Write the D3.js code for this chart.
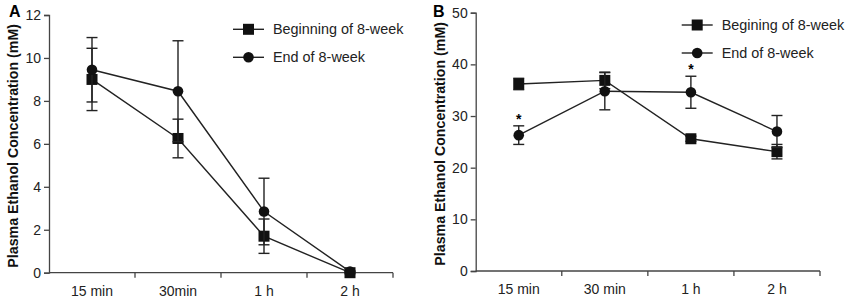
<!DOCTYPE html>
<html>
  <head>
    <meta charset="utf-8">
    <script src="https://cdn.jsdelivr.net/npm/d3@7"></script>
    <style>
      body { margin: 0; background: white; }
      svg { display: block; font-family: "Liberation Sans", Arial, sans-serif; }
    </style>
  </head>
  <body>
    <script>
      // Data
      const timesA = ["15 min", "30min", "1 h", "2 h"];
      const timesB = ["15 min", "30 min", "1 h", "2 h"];

      const beginA = [9.0, 6.25, 1.7, 0.0];
      const beginErrA = [1.45, 0.9, 0.8, 0.05];
      const endA = [9.45, 8.45, 2.85, 0.05];
      const endErrA = [1.5, 2.35, 1.55, 0.05];

      const beginB = [36.2, 36.9, 25.6, 23.1];
      const beginErrB = [1.1, 1.6, 0.5, 1.4];
      const endB = [26.3, 34.8, 34.6, 27.0];
      const endErrB = [1.8, 3.6, 3.1, 3.1];
      const starsB = [true, false, true, false]; // * over end-of-8-week

      const yTicksA = [0, 2, 4, 6, 8, 10, 12];
      const yTicksB = [0, 10, 20, 30, 40, 50];

      const w = 850;
      const h = 302;

      const svg = d3.select("body")
        .append("svg")
        .attr("width", w)
        .attr("height", h);

      function drawPanel(p) {
        const g = svg.append("g");

        const x = d3.scaleBand()
          .domain(p.cats)
          .range([p.left, p.right]);

        const y = d3.scaleLinear()
          .domain([0, p.yMax])
          .range([p.bottom, p.top]);

        // y axis
        const yAxis = d3.axisLeft(y)
          .tickValues(p.yTicks)
          .tickSize(5)
          .tickPadding(3);
        g.append("g")
          .attr("transform", "translate(" + p.left + ",0)")
          .call(yAxis)
          .call(s => s.selectAll("text").attr("font-size", 14).attr("fill", "#222").attr("font-family", null))
          .call(s => s.selectAll("path,line").attr("stroke", "#444").attr("stroke-width", 1.3));

        // x axis: ticks at band edges
        const edges = p.cats.map(c => x(c)).concat([p.right]);
        g.append("line")
          .attr("x1", p.left).attr("x2", p.right)
          .attr("y1", p.bottom).attr("y2", p.bottom)
          .attr("stroke", "#444").attr("stroke-width", 1.3);
        g.selectAll(".xt")
          .data(edges.slice(1))
          .enter()
          .append("line")
          .attr("x1", d => d).attr("x2", d => d)
          .attr("y1", p.bottom).attr("y2", p.bottom + 5)
          .attr("stroke", "#444").attr("stroke-width", 1.3);
        g.selectAll(".xl")
          .data(p.cats)
          .enter()
          .append("text")
          .attr("x", d => x(d) + x.bandwidth() / 2)
          .attr("y", p.bottom + 23)
          .attr("text-anchor", "middle")
          .attr("font-size", 14)
          .attr("fill", "#222")
          .text(d => d);

        // y label
        g.append("text")
          .attr("transform", "translate(" + p.labelX + "," + ((p.top + p.bottom) / 2 + 2) + ") rotate(-90)")
          .attr("text-anchor", "middle")
          .attr("font-size", 14.2)
          .attr("font-weight", "bold")
          .attr("fill", "#111")
          .text("Plasma Ethanol Concentration (mM)");

        // panel letter
        g.append("text")
          .attr("x", p.letterX)
          .attr("y", 17)
          .attr("font-size", 16)
          .attr("font-weight", "bold")
          .text(p.letter);

        const cx = d => x(d) + x.bandwidth() / 2;
        const line = d3.line()
          .x(d => cx(d.c))
          .y(d => y(d.v));

        p.series.forEach(s => {
          const pts = p.cats.map((c, i) => ({ c: c, v: s.values[i], e: s.errs[i] }));

          g.append("path")
            .datum(pts)
            .attr("d", line)
            .attr("fill", "none")
            .attr("stroke", "#222")
            .attr("stroke-width", 1.4);

          // error bars
          const eb = g.append("g").attr("stroke", "#222").attr("stroke-width", 1.4);
          pts.forEach(d => {
            const x0 = cx(d.c);
            eb.append("line").attr("x1", x0).attr("x2", x0)
              .attr("y1", y(d.v - d.e)).attr("y2", y(d.v + d.e));
            [d.v - d.e, d.v + d.e].forEach(v => {
              eb.append("line").attr("x1", x0 - 5.5).attr("x2", x0 + 5.5)
                .attr("y1", y(v)).attr("y2", y(v));
            });
          });

          // markers
          if (s.shape === "square") {
            g.selectAll(null)
              .data(pts)
              .enter()
              .append("rect")
              .attr("x", d => cx(d.c) - 5.5)
              .attr("y", d => y(d.v) - 5.5)
              .attr("width", 11)
              .attr("height", 11)
              .attr("fill", "#111");
          } else {
            g.selectAll(null)
              .data(pts)
              .enter()
              .append("circle")
              .attr("cx", d => cx(d.c))
              .attr("cy", d => y(d.v))
              .attr("r", 5.3)
              .attr("fill", "#111");
          }

          if (s.stars) {
            g.selectAll(null)
              .data(pts.filter((d, i) => s.stars[i]))
              .enter()
              .append("text")
              .attr("x", d => cx(d.c))
              .attr("y", d => y(d.v + d.e) - 2)
              .attr("text-anchor", "middle")
              .attr("font-size", 14)
              .attr("font-weight", "bold")
              .text("*");
          }
        });

        // legend
        p.series.forEach((s, i) => {
          const ly = p.legY + i * 28;
          g.append("line")
            .attr("x1", p.legX).attr("x2", p.legX + 31)
            .attr("y1", ly).attr("y2", ly)
            .attr("stroke", "#222").attr("stroke-width", 1.4);
          if (s.shape === "square") {
            g.append("rect")
              .attr("x", p.legX + 15.5 - 5.5).attr("y", ly - 5.5)
              .attr("width", 11).attr("height", 11).attr("fill", "#111");
          } else {
            g.append("circle")
              .attr("cx", p.legX + 15.5).attr("cy", ly)
              .attr("r", 5.3).attr("fill", "#111");
          }
          g.append("text")
            .attr("x", p.legX + 40)
            .attr("y", ly + 5)
            .attr("font-size", 14.4)
            .attr("fill", "#222")
            .text(s.name);
        });
      }

      drawPanel({
        letter: "A", letterX: 9,
        cats: timesA, yMax: 12, yTicks: yTicksA,
        left: 49, right: 393, top: 15, bottom: 272.7,
        labelX: 18,
        legX: 233, legY: 29.3,
        series: [
          { name: "Beginning of 8-week", shape: "square", values: beginA, errs: beginErrA },
          { name: "End of 8-week", shape: "circle", values: endA, errs: endErrA }
        ]
      });

      drawPanel({
        letter: "B", letterX: 433,
        cats: timesB, yMax: 50, yTicks: yTicksB,
        left: 475.7, right: 820, top: 12.7, bottom: 271,
        labelX: 445,
        legX: 681.7, legY: 25,
        series: [
          { name: "Begining of 8-week", shape: "square", values: beginB, errs: beginErrB },
          { name: "End of 8-week", shape: "circle", values: endB, errs: endErrB, stars: starsB }
        ]
      });
    </script>
  </body>
</html>
